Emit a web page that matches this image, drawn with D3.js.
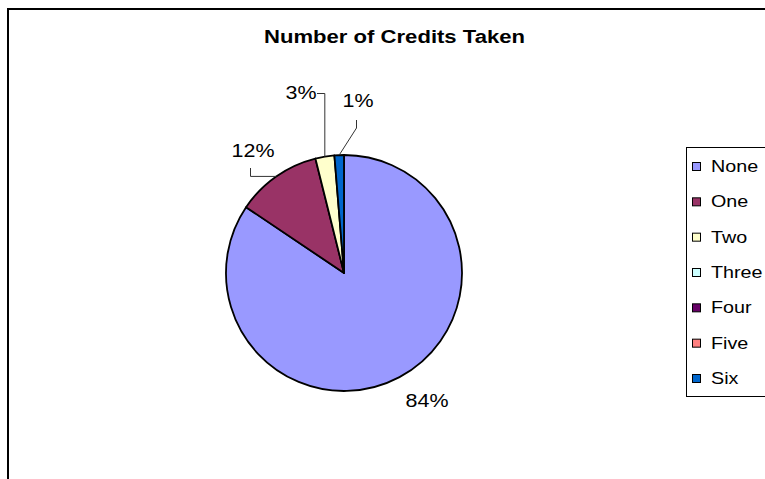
<!DOCTYPE html>
<html>
<head>
<meta charset="utf-8">
<script src="https://cdn.jsdelivr.net/npm/d3@7"></script>
<style>
  html, body { margin: 0; padding: 0; background: #fff; }
  svg { display: block; font-family: "Liberation Sans", Arial, sans-serif; }
</style>
</head>
<body>
<svg id="chart" width="765" height="479"></svg>
<script>
// Survey responses: number of credits taken
const categories = ["None", "One", "Two", "Three", "Four", "Five", "Six"];
const counts     = [65, 9, 2, 0, 0, 0, 1];
const colors     = ["#9999FF", "#993366", "#FFFFCC", "#CCFFFF", "#660066", "#FF8080", "#0066CC"];
const title      = "Number of Credits Taken";

const svg = d3.select("#chart");

// outer chart frame (runs off the right and bottom edges)
svg.append("rect")
  .attr("x", 8).attr("y", 9)
  .attr("width", 820).attr("height", 520)
  .attr("fill", "#fff").attr("stroke", "#000").attr("stroke-width", 2);

// title
svg.append("text")
  .attr("x", 264).attr("y", 43)
  .attr("font-size", 18).attr("font-weight", "bold")
  .attr("textLength", 261).attr("lengthAdjust", "spacingAndGlyphs")
  .text(title);

const data = categories.map((c, i) => ({ name: c, value: counts[i], color: colors[i] }));
const total = d3.sum(counts);

const cx = 344, cy = 273, r = 118;
const pie = d3.pie().value(d => d.value).sort(null);
const arcs = pie(data);
const arc = d3.arc().innerRadius(0).outerRadius(r);

const g = svg.append("g").attr("transform", `translate(${cx},${cy})`);
g.selectAll("path")
  .data(arcs.filter(a => a.data.value > 0))
  .join("path")
  .attr("d", arc)
  .attr("fill", d => d.data.color)
  .attr("stroke", "#000")
  .attr("stroke-width", 1.8)
  .attr("stroke-linejoin", "round");

// point on the rim at the middle of a slice
function rimPoint(a) {
  const m = (a.startAngle + a.endAngle) / 2;
  return [cx + r * Math.sin(m), cy - r * Math.cos(m)];
}

// label placement: text anchor and the bend of the leader line
const labelPlace = {
  None: { x: 427, y: 407, leader: null },
  One:  { x: 253, y: 157, leader: [[250.5, 168], [250.5, "rimY"]] },
  Two:  { x: 301, y: 99,  leader: [[317, 93.5], ["rimX", 93.5]] },
  Six:  { x: 358, y: 107, leader: [[356.5, 120], [356.5, 128]] }
};

const sx = 1.13;
arcs.forEach(a => {
  const p = labelPlace[a.data.name];
  if (!p || a.data.value <= 0) return;
  const pct = Math.round(a.data.value / total * 100) + "%";
  if (p.leader) {
    const rim = rimPoint(a);
    const pts = p.leader.map(([x, y]) => [x === "rimX" ? rim[0] : x, y === "rimY" ? rim[1] : y]);
    pts.push(rim);
    svg.append("path")
      .attr("d", d3.line()(pts))
      .attr("fill", "none")
      .attr("stroke", "#333")
      .attr("stroke-width", 1);
  }
  svg.append("text")
    .attr("transform", `translate(${p.x},${p.y}) scale(${sx},1)`)
    .attr("text-anchor", "middle")
    .attr("font-size", 19)
    .attr("fill", "#000")
    .text(pct);
});

// legend
const lg = svg.append("g");
lg.append("rect")
  .attr("x", 686.5).attr("y", 147.5)
  .attr("width", 120).attr("height", 249)
  .attr("fill", "#fff").attr("stroke", "#000").attr("stroke-width", 1);

const rowY = d3.scalePoint().domain(categories).range([166, 378]);
const items = lg.selectAll("g.item").data(data).join("g")
  .attr("class", "item")
  .attr("transform", d => `translate(0,${rowY(d.name)})`);
items.append("rect")
  .attr("x", 692.5).attr("y", -3.5)
  .attr("width", 8).attr("height", 8)
  .attr("fill", d => d.color)
  .attr("stroke", "#000").attr("stroke-width", 1);
items.append("text")
  .attr("transform", "translate(711,6) scale(1.16,1)")
  .attr("font-size", 17)
  .attr("fill", "#000")
  .text(d => d.name);
</script>
</body>
</html>
